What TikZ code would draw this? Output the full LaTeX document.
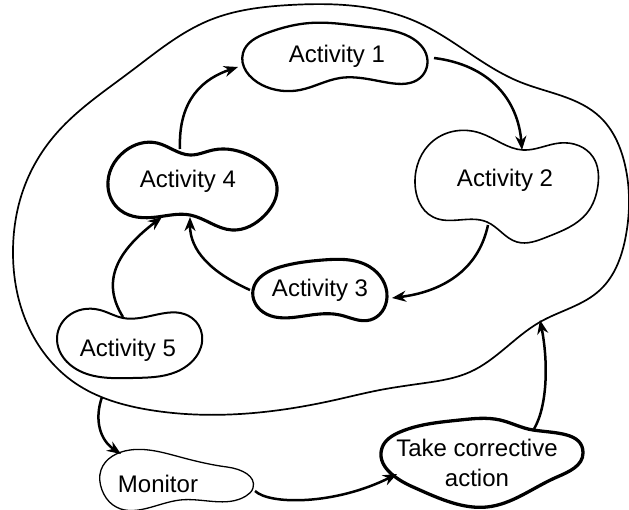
\documentclass[tikz,border=0pt]{standalone}
\usepackage{fontspec}
\setmainfont{Liberation Sans}
\usetikzlibrary{arrows.meta,hobby}
\begin{document}
\begin{tikzpicture}[x=1pt,y=-1pt,
  blob/.style={draw, line join=round, line width=#1},
  blob/.default=1.6pt,
  lbl/.style={font=\fontsize{24}{30}\selectfont, align=center, inner sep=0pt},
  conn/.style={draw, line width=2.5pt, -{Stealth[length=14pt,width=11pt]}}]
\useasboundingbox (0,0) rectangle (629,510);

% outer region
\draw[blob=1.7pt] plot[closed hobby] coordinates {(290,5) (417,22) (520,82) (600,117)
  (625,165) (626,235) (600,290) (540,322) (470,372) (425,383) (380,390)
  (335,400) (240,414) (150,410) (75,383) (30,330) (13,250) (25,185)
  (55,135) (130,72) (210,20)};

% Activity 1
\draw[blob=2.3pt] plot[closed hobby] coordinates {(243,53) (267,33) (310,23) (367,27) (410,37)
  (427,57) (420,78) (390,83) (340,78) (300,90) (262,85)};
% Activity 4
\draw[blob=3.1pt] plot[closed hobby] coordinates {(108,187) (125,151) (157,143) (190,155) (213,150)
  (253,157) (277,187) (265,215) (232,230) (190,215)
  (157,217) (120,210)};
% Activity 2
\draw[blob=1.6pt] plot[closed hobby] coordinates {(415,183) (433,141) (480,133) (523,150) (560,143)
  (593,157) (598,185) (587,213) (547,237) (517,242)
  (487,222) (433,217)};
% Activity 3
\draw[blob=3.1pt] plot[closed hobby] coordinates {(253,290) (280,267) (323,260) (370,267) (387,297)
  (370,320) (340,315) (297,317) (263,312)};
% Activity 5
\draw[blob=2.0pt] plot[closed hobby] coordinates {(57,340) (67,317) (100,310) (123,318) (192,318)
  (202,335) (176,372) (133,378) (73,367)};
% Monitor
\draw[blob=1.3pt] plot[closed hobby] coordinates {(101,470) (130,450) (180,457) (227,467)
  (253,488) (246,496) (180,500) (113,505) (102,490)};
% Take corrective action
\draw[blob=3.3pt] plot[closed hobby] coordinates {(382,448) (400,432) (460,420) (500,420) (533,430)
  (583,453) (557,477) (487,507) (453,503) (413,487)};

% labels
\node[lbl, anchor=base] (a1) at (337,63) {Activity 1};
\node[lbl, anchor=base] (a2) at (505,187) {Activity 2};
\node[lbl, anchor=base] (a3) at (320,297) {Activity 3};
\node[lbl, anchor=base] (a4) at (188,188) {Activity 4};
\node[lbl, anchor=base] (a5) at (128,357) {Activity 5};
\node[lbl, anchor=base] (mon) at (158,492) {Monitor};
\node[lbl] (tca) at (477,463) {Take corrective\\action};

% connector end points on the outlines
\coordinate (a4top) at (180,149);
\coordinate (a1left) at (238,67);
\coordinate (a1right) at (434,58);
\coordinate (a2top) at (522,150);
\coordinate (a2bot) at (488,225);
\coordinate (a3right) at (392,298);
\coordinate (a3left) at (250,290);
\coordinate (a4botR) at (190,217);
\coordinate (a4botL) at (162,217);
\coordinate (a5top) at (123,317);
\coordinate (outbot) at (102,397);
\coordinate (montop) at (121,454);
\coordinate (monright) at (255,491);
\coordinate (tcaleft) at (397,474);
\coordinate (tcatop) at (534,429);
\coordinate (outright) at (540,320);

% connectors
\draw[conn] (a4top) .. controls (178,98) and (205,78) .. (a1left);
\draw[conn] (a1right) .. controls (490,65) and (518,100) .. (a2top);
\draw[conn] (a2bot) .. controls (478,272) and (440,292) .. (a3right);
\draw[conn] (a3left) .. controls (210,272) and (190,250) .. (a4botR);
\draw[conn] (a5top) .. controls (103,285) and (112,255) .. (a4botL);
\draw[conn] (outbot) .. controls (94,420) and (100,440) .. (montop);
\draw[conn] (monright) .. controls (270,505) and (335,505) .. (tcaleft);
\draw[conn] (tcatop) .. controls (548,405) and (548,360) .. (outright);
\end{tikzpicture}
\end{document}
